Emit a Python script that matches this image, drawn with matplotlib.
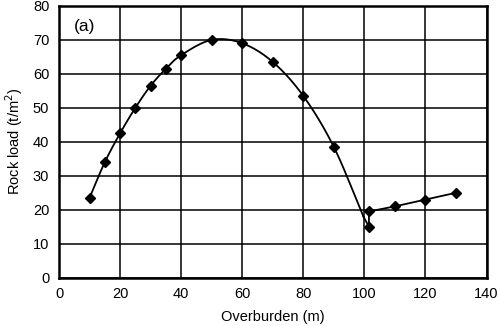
import numpy as np
import matplotlib.pyplot as plt

plt.rcParams['font.family'] = ['Liberation Sans', 'DejaVu Sans']

# --------------- Data ---------------
# smooth branch (measured points read from the figure)
x_curve = [10, 15, 20, 25, 30, 35, 40, 50, 60, 70, 80, 90]
y_curve = [23.5, 34, 42.5, 50, 56.5, 61.5, 65.5, 70, 69, 63.5, 53.5, 38.5]
# end of the smooth branch (no marker)
x_curve_end = 99.7
y_curve_end = 18

# straight branch after the dip
x_line = [101.5, 101.5, 110, 120, 130]
y_line = [15, 19.5, 21, 23, 25]

x_ticks = [0, 20, 40, 60, 80, 100, 120, 140]
y_ticks = [0, 10, 20, 30, 40, 50, 60, 70, 80]


def catmull_rom(xs, ys, n=20):
    # plain Catmull-Rom through the given points
    px = np.array(xs, float)
    py = np.array(ys, float)
    px = np.concatenate([[2*px[0]-px[1]], px, [2*px[-1]-px[-2]]])
    py = np.concatenate([[2*py[0]-py[1]], py, [2*py[-1]-py[-2]]])
    out_x, out_y = [], []
    t = np.linspace(0, 1, n, endpoint=False)
    for i in range(1, len(px)-2):
        for arr, out in ((px, out_x), (py, out_y)):
            p0, p1, p2, p3 = arr[i-1], arr[i], arr[i+1], arr[i+2]
            out.extend(0.5*((2*p1) + (-p0+p2)*t + (2*p0-5*p1+4*p2-p3)*t**2
                            + (-p0+3*p1-3*p2+p3)*t**3))
    out_x.append(px[-2])
    out_y.append(py[-2])
    return np.array(out_x), np.array(out_y)


fig = plt.figure(figsize=(5, 3.26), dpi=100)
ax = fig.add_axes([0.118, 0.148, 0.855, 0.834])

sx, sy = catmull_rom(x_curve + [x_curve_end], y_curve + [y_curve_end])
ax.plot(sx, sy, color='black', lw=1.3)
ax.plot([x_curve_end, x_line[0]], [y_curve_end, y_line[0]], color='black', lw=1.3)
ax.plot(x_curve, y_curve, 'D', color='black', ms=5.5)
ax.plot(x_line, y_line, 'D-', color='black', ms=5.5, lw=1.3)

ax.set_xlim(0, 140)
ax.set_ylim(0, 80)
ax.set_xticks(x_ticks)
ax.set_yticks(y_ticks)
ax.grid(True, color='black', lw=1.1)
ax.tick_params(length=0, labelsize=10.5, pad=7)
for s in ax.spines.values():
    s.set_linewidth(1.8)

ax.set_xlabel('Overburden (m)', fontsize=10.5, labelpad=6)
ax.set_ylabel('Rock load (t/m$^2$)', fontsize=10.5, labelpad=6)
ax.text(0.035, 0.95, '(a)', transform=ax.transAxes, fontsize=12.5,
        va='top', ha='left')

fig.savefig('out.png', dpi=100)
